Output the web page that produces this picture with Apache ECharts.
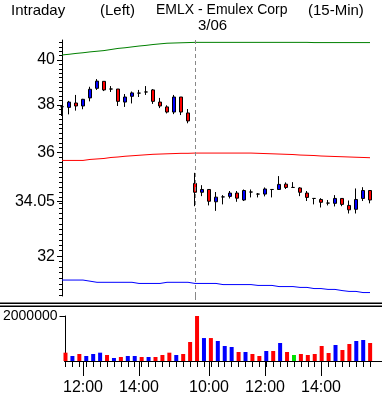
<!DOCTYPE html>
<html><head><meta charset="utf-8">
<script src="https://cdn.jsdelivr.net/npm/echarts@6/dist/echarts.min.js"></script>
<style>html,body{margin:0;padding:0;background:#fff}#c{width:382px;height:397px}</style>
</head><body><div id="c"></div>
<script>
// ---------- data ----------
const times = ['11:15','11:30','11:45','12:00','12:15','12:30','12:45','13:00','13:15','13:30','13:45','14:00','14:15','14:30','14:45','15:00','15:15','15:30','15:45',
  '9:30','9:45','10:00','10:15','10:30','10:45','11:00','11:15','11:30','11:45','12:00','12:15','12:30','12:45','13:00','13:15','13:30','13:45','14:00','14:15','14:30','14:45','15:00','15:15','15:30','15:45'];
const openP  = [37.93,37.90,38.09,37.96,38.31,38.73,39.04,38.70,38.70,38.13,38.38,38.52,38.57,38.66,38.13,37.92,37.70,38.35,37.66,
  34.76,34.41,34.52,34.04,34.23,34.25,34.38,34.11,34.42,34.34,34.34,34.52,34.52,34.73,34.60,34.58,34.38,34.17,34.13,33.99,33.98,34.17,33.90,33.75,34.17,34.48];
const highP  = [37.97,38.18,38.44,38.27,38.80,39.14,39.04,38.83,38.70,38.48,38.59,38.66,38.83,38.70,38.31,37.99,38.44,38.35,37.83,
  35.18,34.69,34.52,34.42,34.30,34.46,34.46,34.52,34.52,34.38,34.60,34.52,35.05,34.80,34.81,34.61,34.46,34.17,34.18,34.11,34.30,34.17,34.09,34.56,34.61,34.48];
const lowP   = [37.53,37.60,37.76,37.82,38.16,38.66,38.61,38.57,37.96,37.92,38.07,38.35,38.44,38.05,37.87,37.64,37.61,37.57,37.22,
  33.87,34.26,33.90,33.69,33.94,34.17,34.04,34.07,34.21,34.21,34.25,34.21,34.50,34.54,34.58,34.26,34.07,33.94,33.82,33.90,33.86,33.87,33.59,33.59,34.07,33.98];
const closeP = [37.93,38.13,37.96,38.25,38.69,39.05,38.66,38.70,38.16,38.35,38.53,38.52,38.57,38.16,37.96,37.70,38.35,37.70,37.32,
  34.41,34.52,34.06,34.22,34.23,34.38,34.18,34.48,34.42,34.34,34.54,34.52,34.72,34.60,34.60,34.41,34.21,34.17,34.02,33.99,34.17,33.94,33.73,34.13,34.48,34.11];
const volume = [370000,222000,311000,222000,311000,370000,267000,133000,178000,222000,222000,178000,178000,178000,267000,370000,267000,311000,844000,
  2000000,1020000,1020000,889000,667000,622000,400000,400000,311000,222000,444000,444000,800000,400000,267000,311000,267000,311000,667000,356000,711000,489000,756000,889000,933000,800000];
const upperBand = [40.23,40.26,40.30,40.33,40.37,40.40,40.43,40.48,40.53,40.56,40.60,40.64,40.67,40.71,40.74,40.77,40.78,40.79,40.80,
  40.81,40.81,40.81,40.81,40.81,40.81,40.81,40.81,40.81,40.81,40.81,40.81,40.81,40.81,40.81,40.81,40.81,40.80,40.80,40.80,40.80,40.80,40.80,40.80,40.80,40.80];
const midBand = [35.68,35.68,35.68,35.68,35.72,35.74,35.76,35.80,35.82,35.85,35.87,35.89,35.91,35.93,35.94,35.95,35.96,35.97,35.97,
  35.98,35.98,35.98,35.98,35.98,35.98,35.98,35.98,35.98,35.97,35.96,35.95,35.94,35.93,35.92,35.90,35.89,35.88,35.86,35.85,35.84,35.83,35.82,35.81,35.80,35.79];
const lowerBand = [31.14,31.14,31.14,31.14,31.10,31.06,31.06,31.06,31.06,31.06,31.06,31.02,31.02,31.02,31.02,31.06,31.06,31.06,31.06,
  31.02,31.02,31.02,31.02,30.98,30.98,30.98,30.98,30.98,30.95,30.95,30.95,30.91,30.91,30.91,30.88,30.88,30.84,30.84,30.81,30.81,30.77,30.74,30.74,30.70,30.70];
const priceTickLabels = ['40','38','36','34.05','32'];
const volumeTickLabels = ['2000000'];
const priorClose = 38.00;
const dayLabel = '3/06';
const titleParts = ['Intraday','(Left)','EMLX - Emulex Corp','(15-Min)'];

// ---------- derived ----------
const toMin = t => { const [h,m] = t.split(':').map(Number); return h*60+m; };
let dayBreakIndex = 0;
for (let i = 1; i < times.length; i++) if (toMin(times[i]) < toMin(times[i-1])) { dayBreakIndex = i; break; }
const majorIdx = [];
times.forEach((t,i) => { const [h,m] = t.split(':').map(Number); if (m === 0 && h % 2 === 0) majorIdx.push(i); });
const allIdx = times.map((t,i) => i);
const priceLabelVals = priceTickLabels.map(parseFloat);
const minorPriceTicks = [];
for (let k = 153; k <= 204; k++) minorPriceTicks.push(+(k*0.2).toFixed(1));

const UP = '#0000ff', DOWN = '#ff0000', FLAT = '#00e000';
function dirColor(i){
  const o = openP[i], c = closeP[i];
  if (c > o) return UP; if (c < o) return DOWN;
  const pc = i === 0 ? priorClose : closeP[i-1];
  if (c > pc) return UP; if (c < pc) return DOWN; return FLAT;
}

const FONT = '"Liberation Sans",Arial,sans-serif';
const XMIN = -1/7, XMAX = -1/7 + 321/7;
const PMIN = 30.58, PMAX = 40.92;

const chart = echarts.init(document.getElementById('c'), null, {renderer:'canvas'});
const txt = (size) => ({color:'#000', fontFamily: FONT, fontSize: size, fontWeight:'normal'});
const titleLefts = [11, 100, 156, 308];
const titleSizes = [15, 15, 14, 15];

chart.setOption({
  animation: false,
  backgroundColor: '#fff',
  title: titleParts.map((t,i) => ({text: t, left: titleLefts[i], top: 3, padding: 0, textStyle: txt(titleSizes[i])})),
  grid: [
    {left: 61, top: 40, width: 321, height: 256},
    {left: 61, top: 40, width: 321, height: 256},
    {left: 61, top: 316, width: 321, height: 45},
    {left: 61, top: 316, width: 321, height: 45}
  ],
  xAxis: [
    {gridIndex:0, type:'value', min:XMIN, max:XMAX, show:false},
    {gridIndex:1, type:'value', min:XMIN, max:XMAX, show:false},
    {gridIndex:2, type:'value', min:XMIN, max:XMAX,
      axisLine:{show:true, onZero:false, lineStyle:{color:'#000', width:1}},
      axisTick:{show:true, customValues: allIdx, length:6, lineStyle:{color:'#000'}},
      axisLabel:{show:false}, splitLine:{show:false}},
    {gridIndex:3, type:'value', min:XMIN, max:XMAX,
      axisLine:{show:false},
      axisTick:{show:true, customValues: majorIdx, length:15, lineStyle:{color:'#000'}},
      axisLabel:{show:true, customValues: majorIdx, margin:19, ...txt(16),
        formatter: v => times[Math.round(v)]},
      splitLine:{show:false}}
  ],
  yAxis: [
    {gridIndex:0, type:'log', logBase:10, min:PMIN, max:PMAX,
      axisLine:{show:true, lineStyle:{color:'#000'}},
      axisTick:{show:true, customValues: priceLabelVals, length:5, lineStyle:{color:'#000'}},
      axisLabel:{show:true, customValues: priceLabelVals, margin:6, ...txt(16),
        formatter: v => { let best = 0; priceLabelVals.forEach((p,i)=>{ if (Math.abs(p-v) < Math.abs(priceLabelVals[best]-v)) best = i; }); return priceTickLabels[best]; }},
      splitLine:{show:false}, minorTick:{show:false}},
    {gridIndex:1, type:'log', logBase:10, min:PMIN, max:PMAX,
      axisLine:{show:false},
      axisTick:{show:true, customValues: minorPriceTicks, length:3, lineStyle:{color:'#000'}},
      axisLabel:{show:false}, splitLine:{show:false}},
    {gridIndex:2, type:'value', min:0, max:2000000,
      axisLine:{show:true, lineStyle:{color:'#000'}},
      axisTick:{show:true, customValues: volumeTickLabels.map(Number), length:6, lineStyle:{color:'#000'}},
      axisLabel:{show:true, customValues: volumeTickLabels.map(Number), margin:7, ...txt(14),
        formatter: v => volumeTickLabels[0]},
      splitLine:{show:false}},
    {gridIndex:3, type:'value', min:0, max:2000000, show:false}
  ],
  series: [
    {type:'line', xAxisIndex:0, yAxisIndex:0, data: upperBand.map((v,i)=>[i,v]), showSymbol:false, silent:true,
      lineStyle:{color:'#008000', width:1}},
    {type:'line', xAxisIndex:0, yAxisIndex:0, data: midBand.map((v,i)=>[i,v]), showSymbol:false, silent:true,
      lineStyle:{color:'#ff0000', width:1}},
    {type:'line', xAxisIndex:0, yAxisIndex:0, data: lowerBand.map((v,i)=>[i,v]), showSymbol:false, silent:true,
      lineStyle:{color:'#0000ff', width:1}},
    {type:'candlestick', xAxisIndex:0, yAxisIndex:0, barWidth:4, clip:true,
      encode:{x:0, y:[1,2,3,4]},
      data: times.map((t,i)=>[i, openP[i], closeP[i], lowP[i], highP[i]]),
      itemStyle:{color:UP, color0:DOWN, borderColor:'#000', borderColor0:'#000', borderColorDoji:'#000', borderWidth:1},
      markLine:{silent:true, symbol:['none','none'], label:{show:false},
        lineStyle:{color:'#888', type:[4,3], width:1},
        data:[{xAxis: dayBreakIndex}]}},
    {type:'bar', xAxisIndex:2, yAxisIndex:2, barWidth:4,
      data: volume.map((v,i)=>({value:[i,v], itemStyle:{color: dirColor(i)}}))}
  ]
});

const px = chart.convertToPixel({xAxisIndex:0}, dayBreakIndex);
chart.setOption({
  graphic: [
    {type:'rect', shape:{x:0, y:302.5, width:382, height:1.6}, style:{fill:'#000'}, silent:true},
    {type:'rect', shape:{x:0, y:305.5, width:382, height:1.6}, style:{fill:'#000'}, silent:true},
    {type:'line', shape:{x1:Math.round(px)+0.5, y1:296, x2:Math.round(px)+0.5, y2:302}, style:{stroke:'#888', lineWidth:1, lineDash:[4,3]}, silent:true},
    {type:'text', x: px + 3, y: 18, style:{text: dayLabel, fill:'#000', font: '15px ' + FONT}, silent:true}
  ]
});
</script></body></html>
